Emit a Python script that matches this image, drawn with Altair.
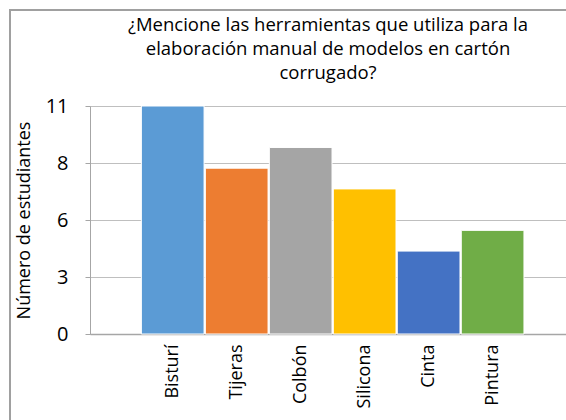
import altair as alt
import pandas as pd

categories = ["Bisturí", "Tijeras", "Colbón", "Silicona", "Cinta", "Pintura"]
values = [11, 8, 9, 7, 4, 5]
colors = ["#5B9BD5", "#ED7D31", "#A5A5A5", "#FFC000", "#4472C4", "#70AD47"]
tick_values = [0, 2.75, 5.5, 8.25, 11]

df = pd.DataFrame({"cat": categories, "val": values})
FONT = "Open Sans"

bars = alt.Chart(df).mark_bar(stroke="white", strokeWidth=1).encode(
    x=alt.X("cat:N", sort=categories,
            scale=alt.Scale(paddingInner=0.02, paddingOuter=0.73, align=0.55),
            axis=alt.Axis(title=None, labelAngle=-90, labelFontSize=18, labelFont=FONT,
                          labelColor="#000000", labelPadding=10, ticks=False,
                          domainColor="#a6a6a6", domainWidth=1.5, labelBaseline="middle")),
    y=alt.Y("val:Q", scale=alt.Scale(domain=[0, 11], nice=False),
            axis=alt.Axis(title="Número de estudiantes", values=tick_values,
                          labelExpr="format(round(datum.value), 'd')",
                          titleFont=FONT, titleFontSize=18, titleFontWeight="normal",
                          titleColor="#000000", titlePadding=12,
                          labelFont=FONT, labelFontSize=20, labelColor="#000000",
                          labelPadding=17, tickSize=5, tickColor="#a6a6a6",
                          domainColor="#a6a6a6", gridColor="#bfbfbf", gridWidth=1.2)),
    color=alt.Color("cat:N", scale=alt.Scale(domain=categories, range=colors), legend=None),
)

frame = alt.Chart(df).mark_rect(fill=None, stroke="#a0a0a0", strokeWidth=1.5).encode(
    x=alt.value(-80), x2=alt.value(520), y=alt.value(-96), y2=alt.value(330)
)

chart = alt.layer(frame, bars).properties(
    width=476, height=228,
    title=alt.Title(
        ["¿Mencione las herramientas que utiliza para la",
         "elaboración manual de modelos en cartón",
         "corrugado?"],
        font=FONT, fontSize=18.5, fontWeight="normal", color="#000000",
        anchor="middle", offset=-73, lineHeight=24,
    ),
    autosize=alt.AutoSizeParams(type="none"),
    padding={"left": 90, "top": 106, "right": 0, "bottom": 86},
).configure_view(stroke=None).configure(background="white")

chart.save("out.html", embed_options={"renderer": "svg", "actions": False})
